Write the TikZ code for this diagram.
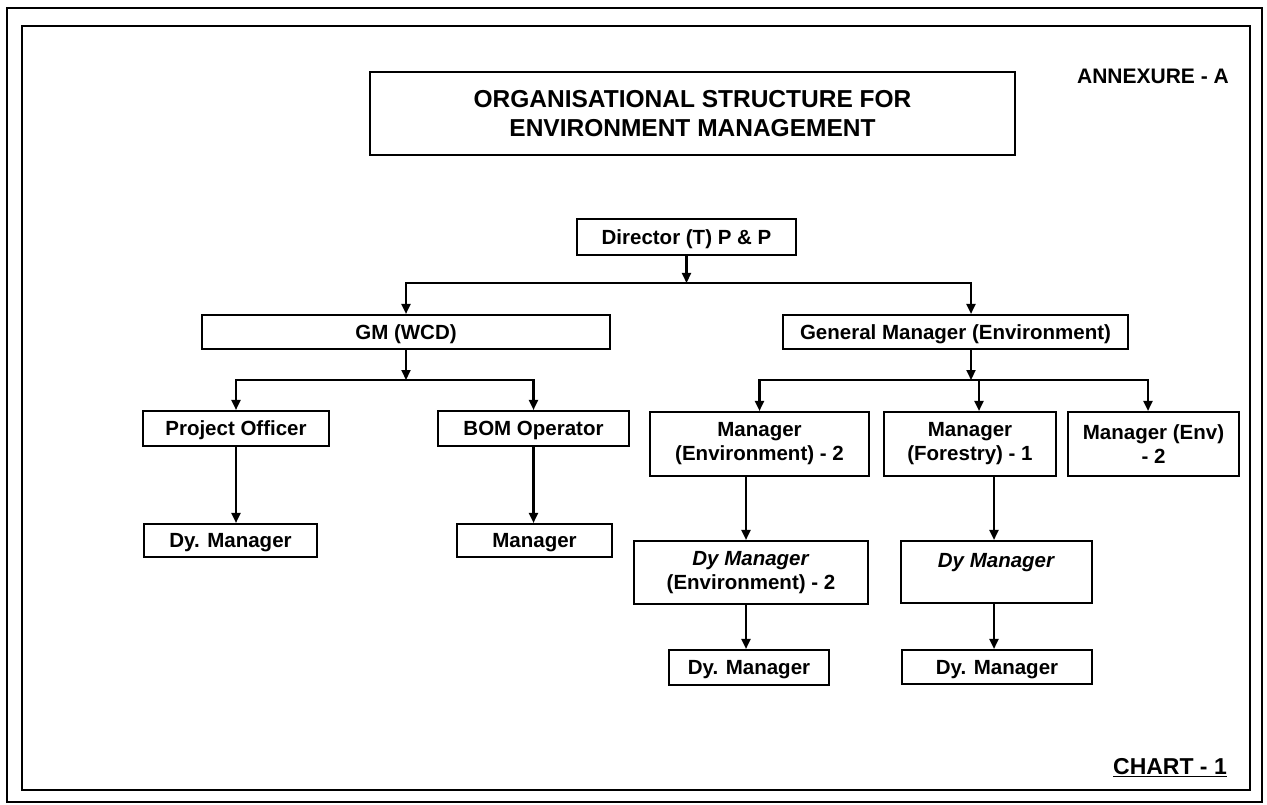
\documentclass[tikz,border=0pt]{standalone}
\usepackage{fontspec}
\setmainfont{Liberation Sans}
\usetikzlibrary{arrows.meta}
\begin{document}
\begin{tikzpicture}[x=1pt,y=-1pt,
  box/.style={draw, line width=2.1pt, inner sep=0pt, align=center, font=\fontsize{20.5}{24}\selectfont\bfseries},
  onel/.style={text depth=0pt},
  arr/.style={line width=2.1pt, -{Triangle[length=10pt,width=9pt]}},
  frame/.style={line width=2.1pt}]
\useasboundingbox (0,0) rectangle (1267,805);
\fill[white] (0,0) rectangle (1267,805);
\draw[frame] (7,8) rectangle (1262,802);
\draw[frame] (22,26) rectangle (1250,790);

\node[box, minimum width=645pt, minimum height=83pt, font=\fontsize{24.5}{29}\selectfont\bfseries] (title) at (692.5,113.5) {ORGANISATIONAL STRUCTURE FOR\\ENVIRONMENT MANAGEMENT};
\node[font=\fontsize{21}{25}\selectfont\bfseries, inner sep=0pt] (annex) at (1153,76) {ANNEXURE - A};
\node[font=\fontsize{23}{27}\selectfont\bfseries, inner sep=0pt] (chart) at (1170,768) {\underline{CHART - 1}};

\node[box, onel, minimum width=219pt, minimum height=36pt] (dir) at (686.5,237) {Director (T) P \& P};
\node[box, onel, minimum width=408pt, minimum height=34pt] (gm) at (406,332) {GM (WCD)};
\node[box, onel, minimum width=345pt, minimum height=34pt] (gen) at (955.5,332) {General Manager (Environment)};
\node[box, onel, minimum width=186pt, minimum height=35pt] (po) at (236,428.5) {Project Officer};
\node[box, onel, minimum width=191pt, minimum height=35pt] (bom) at (533.5,428.5) {BOM Operator};
\node[box, onel, minimum width=173pt, minimum height=33pt] (dv1) at (230.5,540.5) {Dy. Manager};
\node[box, onel, minimum width=155pt, minimum height=33pt] (mgr) at (534.5,540.5) {Manager};
\node[box, minimum width=219pt, minimum height=64pt] (me2) at (759.5,444) {Manager\\(Environment) - 2};
\node[box, minimum width=172pt, minimum height=64pt] (mf1) at (970,444) {Manager\\(Forestry) - 1};
\node[box, minimum width=171pt, minimum height=64pt] (menv) at (1153.5,444) {Manager (Env)\\- 2};
\node[box, minimum width=234pt, minimum height=63pt] (dye) at (751,572.5) {\textit{Dy Manager}\\(Environment) - 2};
\node[box, minimum width=191pt, minimum height=62pt] (dyf) at (996.5,572) {\textit{Dy Manager}\\\mbox{}};
\node[box, onel, minimum width=160pt, minimum height=35pt] (dv2) at (749,667.5) {Dy. Manager};
\node[box, onel, minimum width=190pt, minimum height=34pt] (dv3) at (997,667) {Dy. Manager};

% Director level
\coordinate (j1) at (dir.south |- 0,283);
\draw[arr] (dir.south) -- (j1);
\draw[arr] (j1) -| (gm.north);
\coordinate (g1) at ([xshift=15.5pt]gen.north);
\draw[arr] (j1) -| (g1);

% GM (WCD) branch
\coordinate (j2) at (gm.south |- 0,380);
\draw[arr] (gm.south) -- (j2);
\draw[arr] (j2) -| (po.north);
\draw[arr] (j2) -| (bom.north);
\draw[arr] (po.south) -- (po.south |- dv1.north);
\draw[arr] (bom.south) -- (bom.south |- mgr.north);

% General Manager branch
\coordinate (g2) at ([xshift=15.5pt]gen.south);
\coordinate (j3) at (g2 |- 0,380);
\draw[arr] (g2) -- (j3);
\draw[arr] (j3) -| (me2.north);
\coordinate (m2) at ([xshift=9pt]mf1.north);
\draw[arr] (j3) -| (m2);
\coordinate (m3) at ([xshift=-5.5pt]menv.north);
\draw[arr] (j3) -| (m3);

\coordinate (a1) at ([xshift=-13.5pt]me2.south);
\draw[arr] (a1) -- (a1 |- dye.north);
\draw[arr] (a1 |- dye.south) -- (a1 |- dv2.north);
\coordinate (a2) at ([xshift=24pt]mf1.south);
\draw[arr] (a2) -- (a2 |- dyf.north);
\draw[arr] (a2 |- dyf.south) -- (a2 |- dv3.north);
\end{tikzpicture}
\end{document}
